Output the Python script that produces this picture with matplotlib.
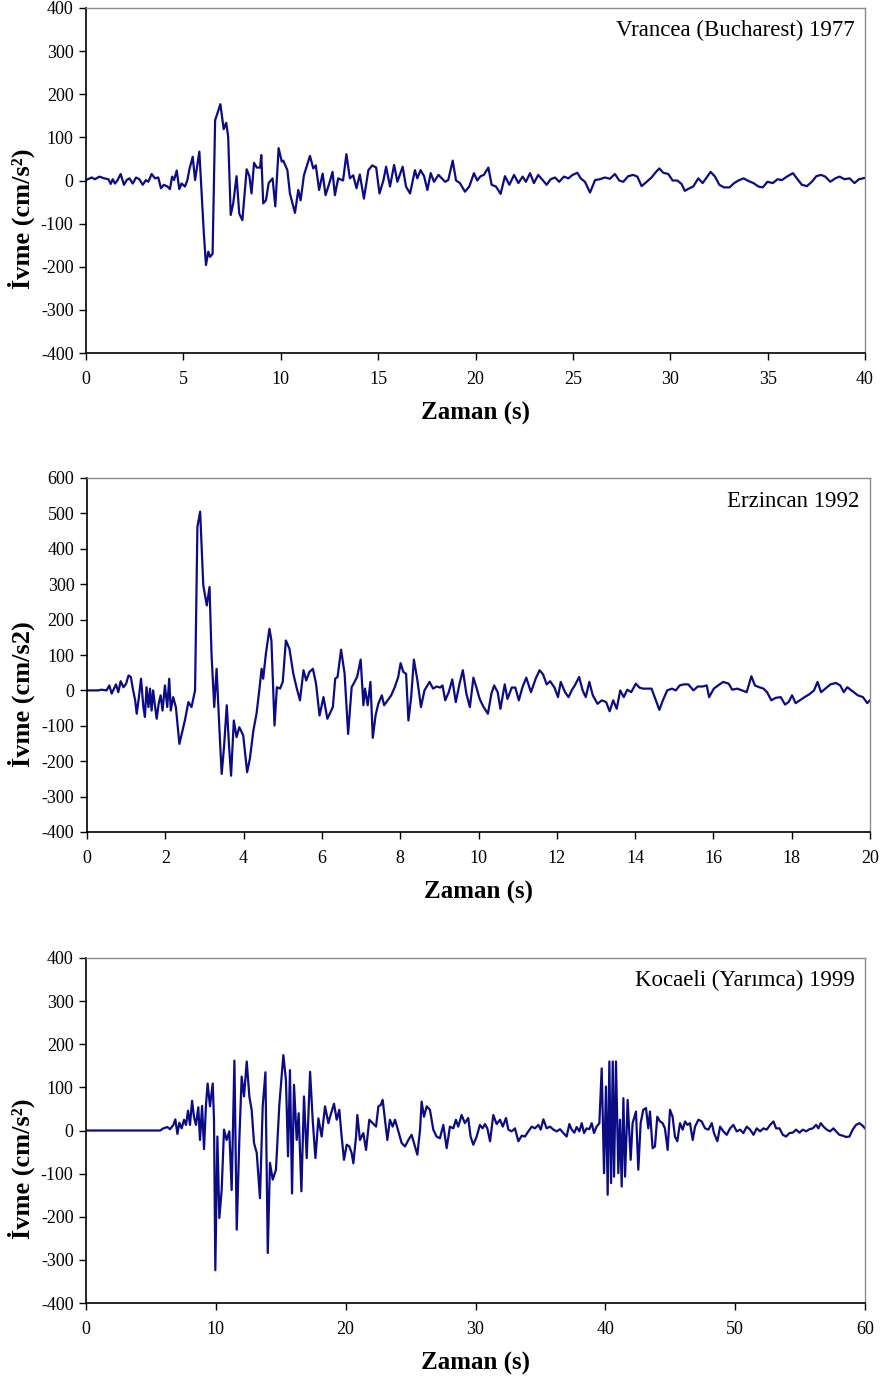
import matplotlib
matplotlib.use("Agg")
import matplotlib.pyplot as plt

plt.rcParams['font.family'] = ['Liberation Serif', 'DejaVu Serif']
plt.rcParams['axes.unicode_minus'] = False

# Vrancea (Bucharest) 1977
t1 = [0.0, 0.29, 0.46, 0.69, 0.93, 1.15, 1.27, 1.37, 1.49, 1.61, 1.78, 1.95, 2.09, 2.23, 2.4,
      2.57, 2.74, 2.91, 3.08, 3.2, 3.37, 3.54, 3.71, 3.85, 4.0, 4.18, 4.31, 4.42, 4.52, 4.66,
      4.79, 4.91, 5.08, 5.2, 5.31, 5.48, 5.6, 5.82, 6.05, 6.16, 6.28, 6.37, 6.5, 6.63, 6.72,
      6.9, 7.07, 7.2, 7.3, 7.43, 7.56, 7.73, 7.87, 8.03, 8.25, 8.39, 8.5, 8.63, 8.77, 8.94,
      9.0, 9.1, 9.24, 9.38, 9.58, 9.72, 9.89, 10.05, 10.13, 10.34, 10.47, 10.73, 10.9, 11.02,
      11.19, 11.5, 11.67, 11.8, 11.97, 12.15, 12.3, 12.49, 12.66, 12.78, 12.95, 13.2, 13.37,
      13.55, 13.72, 13.89, 14.06, 14.27, 14.5, 14.7, 14.9, 15.07, 15.27, 15.41, 15.61, 15.82,
      15.99, 16.26, 16.43, 16.64, 16.89, 17.01, 17.18, 17.36, 17.53, 17.7, 17.87, 18.1, 18.44,
      18.6, 18.83, 19.0, 19.2, 19.46, 19.68, 19.92, 20.09, 20.26, 20.43, 20.66, 20.83, 21.05,
      21.29, 21.51, 21.74, 21.98, 22.2, 22.42, 22.59, 22.8, 23.0, 23.22, 23.45, 23.65, 23.86,
      24.08, 24.3, 24.54, 24.77, 24.99, 25.23, 25.4, 25.62, 25.88, 26.14, 26.39, 26.65, 26.9,
      27.16, 27.38, 27.59, 27.84, 28.1, 28.31, 28.53, 28.79, 29.04, 29.27, 29.44, 29.64, 29.9,
      30.12, 30.36, 30.58, 30.75, 30.98, 31.18, 31.44, 31.66, 31.87, 32.07, 32.3, 32.52, 32.76,
      33.04, 33.28, 33.5, 33.76, 34.01, 34.27, 34.53, 34.75, 34.99, 35.27, 35.51, 35.73, 35.99,
      36.3, 36.5, 36.76, 37.02, 37.27, 37.5, 37.74, 37.96, 38.22, 38.47, 38.7, 38.94, 39.21,
      39.46, 39.69, 39.91, 40.0]
a1 = [1, 7, 3, 9, 5, 3, -8, 3, -7, 0, 15, -10, 1, 5, -7,
      7, 3, -10, 1, -3, 15, 5, 7, -18, -10, -14, -20, 9, 1, 23,
      -20, -7, -14, 0, 26, 55, 1, 67, -122, -196, -165, -177, -170, 140, 152,
      177, 119, 134, 102, -80, -53, 10, -77, -92, 26, 10, -30, 41, 30, 30,
      59, -53, -46, -6, 5, -60, 75, 44, 46, 24, -30, -75, -22, -46,
      12, 57, 28, 35, -22, 16, -34, -7, 20, -34, 5, 0, 61,
      5, 12, -18, 14, -42, 24, 35, 30, -30, 0, 32, -14, 36,
      -3, 32, -14, -30, 24, 5, 24, 10, -22, 17, -3, 13, -3,
      1, 46, 0, -6, -26, -14, 17, 0, 10, 13, 30, -10, -14,
      -31, 10, -10, 13, -6, 9, -3, 17, -6, 13, 1, -10, 3,
      7, -3, 9, 5, 13, 18, 5, -3, -28, 1, 3, 7, 4,
      15, 0, -3, 10, 13, 9, -13, -3, 7, 20, 28, 18, 15,
      0, 0, -8, -24, -18, -14, 5, -6, 7, 20, 9, -10, -16,
      -16, -6, 0, 5, -1, -6, -14, -16, -3, -6, 3, 1, 9,
      17, 5, -10, -13, -3, 10, 13, 9, -3, 5, 9, 3, 5,
      -6, 3, 5, 6]

# Erzincan 1992
t2 = [0.0, 0.29, 0.37, 0.5, 0.57, 0.63, 0.69, 0.74, 0.8, 0.86, 0.93, 1.0, 1.06, 1.12, 1.17,
      1.23, 1.27, 1.32, 1.38, 1.44, 1.48, 1.52, 1.57, 1.61, 1.65, 1.69, 1.74, 1.78, 1.83, 1.88,
      1.93, 1.99, 2.05, 2.1, 2.14, 2.2, 2.27, 2.36, 2.42, 2.5, 2.59, 2.67, 2.76, 2.82, 2.89,
      2.97, 3.06, 3.13, 3.18, 3.25, 3.31, 3.38, 3.44, 3.5, 3.57, 3.63, 3.68, 3.75, 3.82, 3.89,
      3.99, 4.09, 4.16, 4.25, 4.33, 4.4, 4.46, 4.5, 4.57, 4.66, 4.71, 4.79, 4.85, 4.93, 5.0,
      5.08, 5.17, 5.27, 5.36, 5.44, 5.53, 5.6, 5.68, 5.77, 5.85, 5.94, 6.04, 6.14, 6.28, 6.34,
      6.4, 6.49, 6.58, 6.67, 6.76, 6.81, 6.9, 6.99, 7.06, 7.1, 7.17, 7.24, 7.3, 7.37, 7.44,
      7.53, 7.59, 7.68, 7.77, 7.86, 7.95, 8.01, 8.08, 8.15, 8.21, 8.28, 8.35, 8.44, 8.53, 8.62,
      8.75, 8.84, 8.93, 9.02, 9.08, 9.15, 9.24, 9.33, 9.42, 9.52, 9.6, 9.69, 9.78, 9.87, 9.94,
      10.03, 10.12, 10.24, 10.33, 10.4, 10.49, 10.56, 10.67, 10.74, 10.85, 10.94, 11.03, 11.12,
      11.22, 11.34, 11.46, 11.56, 11.65, 11.74, 11.83, 11.94, 12.03, 12.1, 12.21, 12.3, 12.39,
      12.46, 12.57, 12.66, 12.74, 12.83, 12.92, 13.04, 13.15, 13.26, 13.35, 13.44, 13.53, 13.62,
      13.71, 13.8, 13.9, 14.02, 14.11, 14.2, 14.31, 14.42, 14.53, 14.62, 14.71, 14.82, 14.94,
      15.04, 15.14, 15.24, 15.36, 15.49, 15.6, 15.72, 15.83, 15.89, 16.01, 16.12, 16.25, 16.39,
      16.48, 16.61, 16.73, 16.85, 16.97, 17.06, 17.17, 17.28, 17.37, 17.48, 17.59, 17.72, 17.83,
      17.92, 18.01, 18.1, 18.21, 18.33, 18.45, 18.57, 18.66, 18.75, 18.86, 18.99, 19.13, 19.24,
      19.33, 19.42, 19.55, 19.69, 19.82, 19.93, 20.0]
a2 = [0, 0, 2, 0, 14, -9, 5, 17, -5, 26, 9, 19, 42, 38, 5,
      -28, -66, -24, 33, -47, -75, 9, -47, 5, -57, 0, -47, -80, -38, -14,
      -57, 14, -47, 33, -57, -19, -47, -151, -123, -85, -33, -47, 0, 462, 505,
      297, 240, 292, 104, -47, 61, -104, -236, -160, -42, -160, -241, -85, -132, -104,
      -127, -231, -193, -113, -66, 0, 61, 33, 104, 174, 141, -99, 9, 5, 24,
      141, 118, 47, 5, -28, 57, 28, 52, 61, 19, -71, -19, -80, -47, 33,
      38, 115, 47, -123, 9, 19, 38, 87, -42, 5, -42, 24, -134, -71, -38,
      -14, -42, -28, -14, 9, 38, 77, 52, 47, -85, -19, 87, 28, -47, 0,
      24, 5, 11, 8, 14, -28, -5, 31, -33, 21, 57, -9, -47, 36, 11,
      -24, -45, -66, -9, 14, -5, -52, 17, -24, 8, 8, -28, 8,
      36, -5, 33, 57, 45, 17, 26, 8, -19, 24, -5, -19, 2,
      14, 38, 0, -19, 24, -14, -38, -28, -33, -59, -28, -52, 0,
      -19, 2, -5, 19, 8, 5, 5, 5, -28, -55, -28, 0, 5,
      0, 14, 17, 17, 0, 11, 11, 14, -19, 5, 14, 24, 19,
      2, 5, 0, -5, 40, 14, 9, 5, -5, -28, -21, -19, -40,
      -33, -14, -36, -28, -19, -11, 0, 24, -5, 5, 17, 21, 14,
      -5, 9, -2, -14, -19, -36, -28]

# Kocaeli (Yarimca) 1999
t3 = [0.0, 5.7, 5.96, 6.27, 6.47, 6.73, 6.88, 7.04, 7.19, 7.37, 7.55, 7.7, 7.86, 8.01, 8.17,
      8.32, 8.47, 8.65, 8.78, 8.94, 9.09, 9.24, 9.37, 9.55, 9.76, 9.86, 9.96, 10.12, 10.27,
      10.45, 10.63, 10.83, 11.04, 11.22, 11.43, 11.61, 11.81, 11.99, 12.17, 12.38, 12.58,
      12.76, 12.94, 13.15, 13.4, 13.61, 13.82, 14.0, 14.17, 14.38, 14.63, 14.89, 15.2, 15.4,
      15.56, 15.71, 15.87, 16.02, 16.23, 16.38, 16.59, 16.79, 17.0, 17.26, 17.46, 17.67, 17.9,
      18.15, 18.41, 18.67, 18.79, 19.1, 19.31, 19.51, 19.69, 19.87, 20.08, 20.28, 20.46, 20.59,
      20.8, 20.9, 21.1, 21.36, 21.57, 21.82, 22.08, 22.34, 22.52, 22.7, 22.85, 23.03, 23.21,
      23.41, 23.62, 23.8, 24.06, 24.31, 24.57, 24.83, 25.08, 25.34, 25.52, 25.73, 25.85, 26.03,
      26.24, 26.49, 26.75, 27.0, 27.26, 27.52, 27.78, 28.03, 28.29, 28.49, 28.67, 28.93, 29.18,
      29.44, 29.62, 29.83, 30.09, 30.34, 30.55, 30.73, 30.91, 31.12, 31.37, 31.63, 31.89, 32.1,
      32.35, 32.53, 32.79, 33.04, 33.3, 33.56, 33.81, 34.07, 34.33, 34.58, 34.84, 35.02, 35.23,
      35.48, 35.74, 36.0, 36.25, 36.51, 36.77, 37.02, 37.23, 37.41, 37.61, 37.79, 38.0, 38.18,
      38.36, 38.56, 38.77, 38.95, 39.13, 39.33, 39.54, 39.72, 39.9, 40.05, 40.18, 40.31, 40.44,
      40.57, 40.67, 40.82, 41.0, 41.13, 41.26, 41.39, 41.52, 41.72, 41.95, 42.1, 42.36, 42.54,
      42.72, 42.92, 43.13, 43.31, 43.44, 43.64, 43.82, 44.0, 44.21, 44.41, 44.59, 44.8, 44.98,
      45.18, 45.36, 45.54, 45.75, 45.96, 46.14, 46.32, 46.52, 46.73, 46.91, 47.17, 47.42, 47.68,
      47.94, 48.2, 48.37, 48.63, 48.84, 49.09, 49.35, 49.61, 49.86, 50.12, 50.38, 50.63, 50.89,
      51.15, 51.41, 51.66, 51.92, 52.18, 52.43, 52.69, 52.95, 53.15, 53.41, 53.67, 53.92, 54.18,
      54.44, 54.69, 54.95, 55.21, 55.46, 55.72, 55.98, 56.23, 56.41, 56.59, 56.8, 57.05, 57.31,
      57.57, 57.77, 58.03, 58.28, 58.54, 58.8, 59.05, 59.31, 59.57, 59.82, 60.0]
a3 = [0, 0, 5, 8, 3, 13, 26, -8, 18, 5, 25, 13, 46, 13, 69,
      31, 13, 54, -22, 57, -43, 59, 109, 56, 109, 25, -324, -14, -203,
      -138, 2, -22, -2, -138, 162, -230, -22, 125, 79, 160, 79,
      48, -29, -52, -157, 56, 135, -284, -75, -114, -91, 59, 175, 117,
      -60, 140, -146, 106, -22, 40, -141, 79, -64, 136, 25, -64, 28,
      -14, 56, 17, 31, 62, 25, 48, -14, -68, -33, -37, -52, -76,
      -14, 36, -22, -6, -45, 25, 17, 9, 56, 59, 71, 25, -22,
      25, 9, 25, -2, -29, -37, -22, -10, -37, -56, 2, 67, 32,
      56, 48, 2, -14, -18, 13, -41, 9, 5, 25, 9, 36, 17,
      29, -14, -33, -14, 13, 5, 15, 5, -25, 36, 15, 25, 9,
      29, 2, -2, 5, -25, -12, -14, -2, 9, 5, 13, 2, 26,
      5, 9, 2, -2, 3, -6, -14, 15, 2, -5, 8, -2, 17,
      -6, 5, 3, 17, -6, 9, 17, 144, -99, 102, -149, 160, -122,
      160, -107, 160, -99, 25, -130, 75, -107, 71, -68, 17, 44, -91,
      17, 48, 52, 5, 44, -41, -37, 32, 21, 17, 5, -45, 48,
      32, -14, -25, 17, 2, 21, 13, 17, -22, 9, 25, 21, 5,
      2, 17, -6, -25, 9, -2, -10, 5, 13, -2, 2, -6, 9,
      2, -10, 5, -2, 5, 2, 13, 21, 5, 5, -10, -14, -6,
      -5, 2, -5, 2, -2, 3, 5, 13, 5, 17, 9, 2, -2,
      5, -2, -10, -12, -15, -14, 2, 13, 17, 11, 5]

panels = [
    dict(t=t1, a=a1, xmax=40, xstep=5, ymin=-400, ymax=400, title='Vrancea (Bucharest) 1977',
         ylabel='İvme (cm/s²)', rect=[86, 8, 865, 353]),
    dict(t=t2, a=a2, xmax=20, xstep=2, ymin=-400, ymax=600, title='Erzincan 1992',
         ylabel='İvme (cm/s2)', rect=[87, 478, 870, 832]),
    dict(t=t3, a=a3, xmax=60, xstep=10, ymin=-400, ymax=400, title='Kocaeli (Yarımca) 1999',
         ylabel='İvme (cm/s²)', rect=[86, 958, 865, 1303]),
]

W, H = 882, 1385
fig = plt.figure(figsize=(W / 100, H / 100), dpi=100)

for p in panels:
    x0, y0, x1, y1 = p['rect']
    ax = fig.add_axes([x0 / W, 1 - y1 / H, (x1 - x0) / W, (y1 - y0) / H])
    ax.plot(p['t'], p['a'], color='#0b0b85', lw=1.6)
    ax.set_xlim(0, p['xmax'])
    ax.set_ylim(p['ymin'], p['ymax'])
    ax.set_xticks(range(0, p['xmax'] + 1, p['xstep']))
    ax.set_yticks(range(p['ymin'], p['ymax'] + 1, 100))
    ax.tick_params(direction='out', length=5, width=1, labelsize=13, pad=4)
    ax.tick_params(axis='x', pad=8)
    for s in ['left', 'bottom']:
        ax.spines[s].set_color('black')
        ax.spines[s].set_linewidth(1.2)
    for s in ['top', 'right']:
        ax.spines[s].set_color('#8c8c8c')
        ax.spines[s].set_linewidth(1.0)
    ax.set_xlabel('Zaman (s)', fontsize=18, fontweight='bold', labelpad=10)
    ax.set_ylabel(p['ylabel'], fontsize=19, fontweight='bold')
    ax.yaxis.set_label_coords(-0.066, 0.39)
    ax.text(0.987, 0.935, p['title'], transform=ax.transAxes, ha='right', va='center',
            fontsize=16.5)

fig.savefig('out.png', dpi=100)
